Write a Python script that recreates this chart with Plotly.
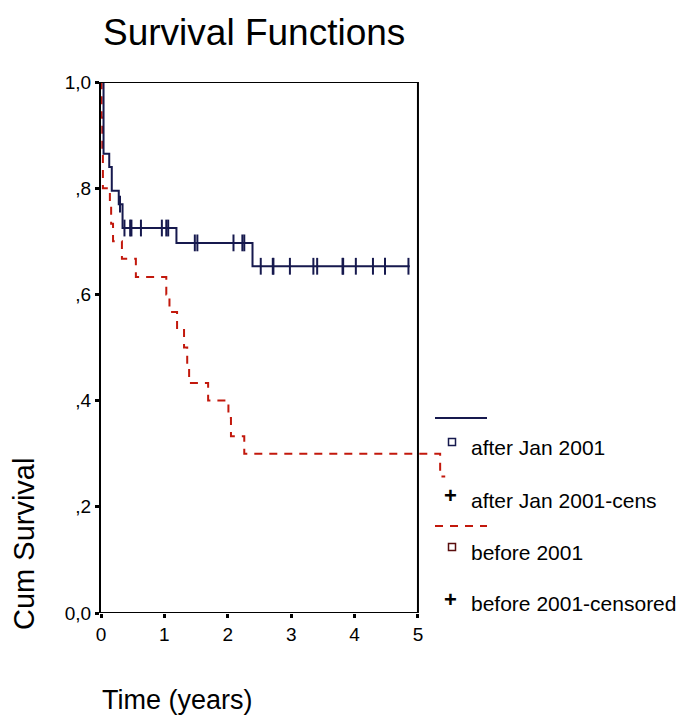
import plotly.graph_objects as go

# Kaplan-Meier step data (time in years, cumulative survival)
after_time = [0.0, 0.04, 0.13, 0.17, 0.28, 0.34, 1.19, 2.39, 4.87]
after_surv = [1.0, 0.865, 0.84, 0.795, 0.77, 0.725, 0.697, 0.653, 0.653]
after_censored = [0.30, 0.37, 0.46, 0.48, 0.63, 0.96, 1.03, 1.06, 1.48, 1.52,
                  2.09, 2.23, 2.26, 2.52, 2.71, 2.72, 2.98, 3.35, 3.41, 3.81,
                  3.82, 4.02, 4.29, 4.48, 4.85]

before_time = [0.0, 0.01, 0.02, 0.03, 0.14, 0.16, 0.19, 0.33, 0.55, 1.03, 1.08,
               1.20, 1.31, 1.36, 1.39, 1.69, 2.01, 2.05, 2.26, 5.35, 5.43]
before_surv = [1.0, 0.933, 0.867, 0.80, 0.767, 0.733, 0.70, 0.667, 0.633, 0.60,
               0.567, 0.533, 0.50, 0.467, 0.433, 0.40, 0.367, 0.333, 0.30, 0.257,
               0.257]

x_ticks = [0, 1, 2, 3, 4, 5]
y_ticks = [0.0, 0.2, 0.4, 0.6, 0.8, 1.0]
y_tick_text = ["0,0", ",2", ",4", ",6", ",8", "1,0"]

legend_labels = ["after Jan 2001", "after Jan 2001-cens",
                 "before 2001", "before 2001-censored"]

BLUE = "#16194e"
RED = "#c2180c"
FONT = "Liberation Sans, Arial, Helvetica, sans-serif"

W, H = 681, 719
L, R, T, B = 101, 225, 82, 106
X_MAX = 5.6


def step_value(times, surv, t):
    val = surv[0]
    for ti, si in zip(times, surv):
        if ti <= t:
            val = si
    return val


def px(x):
    return (x - L) / (W - L - R)


def py(y):
    return (H - B - y) / (H - T - B)


fig = go.Figure()

fig.add_trace(go.Scatter(
    x=before_time, y=before_surv, mode="lines", line_shape="hv",
    line=dict(color=RED, width=2, dash="8px,7px"), showlegend=False,
    hoverinfo="skip"))

fig.add_trace(go.Scatter(
    x=after_time, y=after_surv, mode="lines", line_shape="hv",
    line=dict(color=BLUE, width=2), showlegend=False, hoverinfo="skip"))

fig.add_trace(go.Scatter(
    x=after_censored,
    y=[step_value(after_time, after_surv, t) for t in after_censored],
    mode="markers",
    marker=dict(symbol="line-ns", size=12, line=dict(color=BLUE, width=2)),
    showlegend=False, hoverinfo="skip"))

# plot frame (ends at 5 years, the red curve runs slightly past it)
frame = dict(type="line", xref="x", yref="y", line=dict(color="black", width=2))
fig.add_shape(x0=0, x1=5, y0=1, y1=1, **frame)
fig.add_shape(x0=5, x1=5, y0=0, y1=1, **frame)
fig.add_shape(x0=0, x1=5, y0=0, y1=0, **frame)

# legend block
fig.add_shape(type="line", xref="paper", yref="paper",
              x0=px(435), x1=px(487), y0=py(418), y1=py(418),
              line=dict(color=BLUE, width=2))
fig.add_shape(type="line", xref="paper", yref="paper",
              x0=px(435), x1=px(487), y0=py(526), y1=py(526),
              line=dict(color=RED, width=2, dash="8px,7px"))
for cy, col in [(442, BLUE), (547, "#5a0e0e")]:
    fig.add_shape(type="rect", xref="paper", yref="paper",
                  x0=px(448.5), x1=px(455.5), y0=py(cy - 3.5), y1=py(cy + 3.5),
                  line=dict(color=col, width=1.5))

legend_y = [447, 500, 552, 603]
for label, yy in zip(legend_labels, legend_y):
    fig.add_annotation(x=px(469), y=py(yy), xref="paper", yref="paper",
                       text=label, showarrow=False, xanchor="left",
                       yanchor="middle", font=dict(family=FONT, size=21,
                                                   color="black"))
for yy in [495, 599]:
    fig.add_annotation(x=px(450), y=py(yy), xref="paper", yref="paper",
                       text="<b>+</b>", showarrow=False, xanchor="center",
                       yanchor="middle", font=dict(family=FONT, size=22,
                                                   color="black"))

# titles
fig.add_annotation(x=px(101), y=py(33), xref="paper", yref="paper",
                   text="Survival Functions", showarrow=False,
                   xanchor="left", yanchor="middle",
                   font=dict(family=FONT, size=37, color="black"))
fig.add_annotation(x=px(100), y=py(700), xref="paper", yref="paper",
                   text="Time (years)", showarrow=False,
                   xanchor="left", yanchor="middle",
                   font=dict(family=FONT, size=27, color="black"))
fig.add_annotation(x=px(24), y=py(544), xref="paper", yref="paper",
                   text="Cum Survival", showarrow=False, textangle=-90,
                   xanchor="center", yanchor="middle",
                   font=dict(family=FONT, size=29, color="black"))

fig.update_layout(
    width=W, height=H,
    margin=dict(l=L, r=R, t=T, b=B, pad=0),
    paper_bgcolor="white", plot_bgcolor="white",
    font=dict(family=FONT, color="black"),
    showlegend=False,
    xaxis=dict(range=[0, X_MAX], tickvals=x_ticks, ticks="outside",
               ticklen=4, tickwidth=3, tickcolor="black", showgrid=False,
               zeroline=False, showline=False,
               tickfont=dict(family=FONT, size=19, color="black")),
    yaxis=dict(range=[0, 1], tickvals=y_ticks, ticktext=y_tick_text,
               ticks="outside", ticklen=4, tickwidth=3, tickcolor="black",
               showgrid=False, zeroline=False, showline=True, linewidth=2,
               linecolor="black",
               tickfont=dict(family=FONT, size=19, color="black")),
)

fig.write_html("out.html")
